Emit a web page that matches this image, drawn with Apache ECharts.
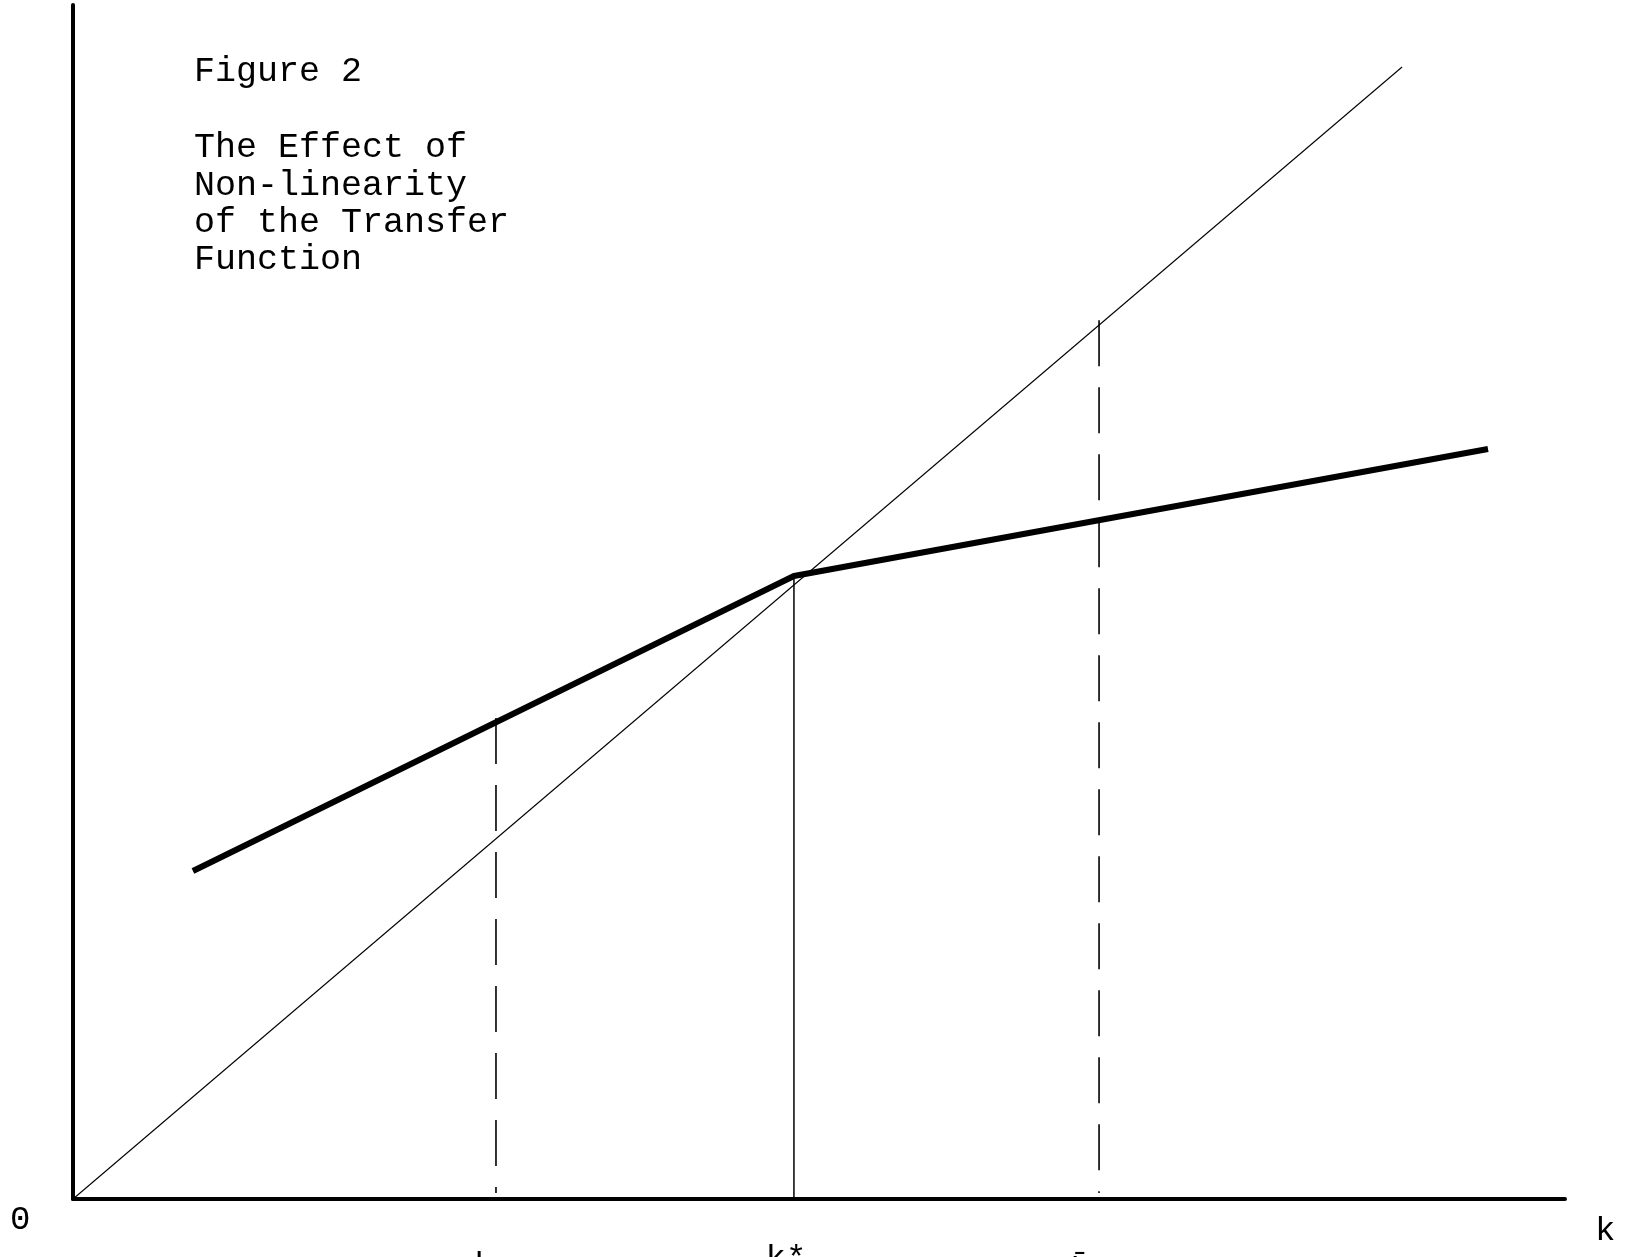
<!DOCTYPE html>
<html>
<head>
<meta charset="utf-8">
<script src="https://cdn.jsdelivr.net/npm/echarts@6/dist/echarts.min.js"></script>
<style>
html,body{margin:0;padding:0;background:#fff;}
#c{width:1627px;height:1257px;}
</style>
</head>
<body>
<div id="c"></div>
<script>
// Data (axis units: x 0..100, y 0..100)
var diagonalLine = [[0, 0], [89.08, 94.81]];
var transferFunction = [[8.04, 27.47], [48.32, 52.18], [94.84, 62.81]];
var kStarLine = [[48.32, 52.18], [48.32, 0]];
var kLowLine = [[28.35, 40.28], [28.35, 0.5]];
var kHighLine = [[68.77, 73.6], [68.77, 0.5]];
var titleLines = ['Figure 2', '', 'The Effect of', 'Non-linearity', 'of the Transfer', 'Function'];
var xLabels = [{x: 28.35, text: 'k'}, {x: 48.32, text: 'k*'}, {x: 68.77, text: 'k\u0304'}];

var chart = echarts.init(document.getElementById('c'), null, {renderer: 'canvas'});
var font = '"Liberation Mono", "DejaVu Sans Mono", monospace';

function lineSeries(data, width, dash) {
  return {
    type: 'line', data: data, symbol: 'none', silent: true,
    lineStyle: {color: '#000', width: width, type: dash || 'solid', cap: 'butt'},
    z: 3
  };
}

var option = {
  animation: false,
  backgroundColor: '#fff',
  grid: {left: 73, top: 5, right: 62, bottom: 58, containLabel: false},
  xAxis: {
    type: 'value', min: 0, max: 100,
    axisLine: {show: true, onZero: false, lineStyle: {color: '#000', width: 4}},
    axisTick: {show: false}, axisLabel: {show: false}, splitLine: {show: false}
  },
  yAxis: {
    type: 'value', min: 0, max: 100,
    axisLine: {show: true, onZero: false, lineStyle: {color: '#000', width: 4}},
    axisTick: {show: false}, axisLabel: {show: false}, splitLine: {show: false}
  },
  series: [
    lineSeries(diagonalLine, 1.1),
    lineSeries(transferFunction, 6),
    lineSeries(kStarLine, 1.5),
    lineSeries(kLowLine, 1.6, [46, 21]),
    lineSeries(kHighLine, 1.6, [46, 21])
  ],
  graphic: []
};
chart.setOption(option);

var g = [];
var lineTops = [72, 0, 148, 186, 223, 260];
titleLines.forEach(function (t, i) {
  if (!t) return;
  g.push({type: 'text', left: 194, top: lineTops[i] - 18,
    style: {text: t, font: '35px ' + font, fill: '#000'}});
});
g.push({type: 'text', left: 10, top: 1203,
  style: {text: '0', font: '34px ' + font, fill: '#000'}});
g.push({type: 'text', left: 1595, top: 1214,
  style: {text: 'k', font: '34px ' + font, fill: '#000'}});
var labelTops = [1249, 1242, 1254];
var labelShift = [-12, -8, -19];
xLabels.forEach(function (l, i) {
  var px = chart.convertToPixel({gridIndex: 0}, [l.x, 0])[0];
  g.push({type: 'text', x: px + labelShift[i], y: labelTops[i],
    style: {text: l.text, font: '34px ' + font, fill: '#000', align: 'center', verticalAlign: 'top'}});
});
chart.setOption({graphic: g});
</script>
</body>
</html>
